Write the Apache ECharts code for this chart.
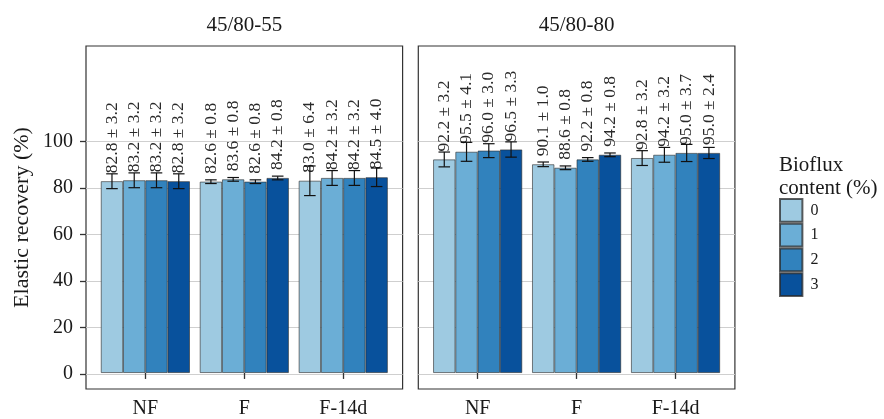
<!DOCTYPE html>
<html>
<head>
<meta charset="utf-8">
<script src="https://cdn.jsdelivr.net/npm/echarts@6/dist/echarts.min.js"></script>
<style>html,body{margin:0;padding:0;background:#fff}#c{width:884px;height:419px}</style>
</head>
<body>
<div id="c"></div>
<script>
// ---- data ----
const categories = ['NF', 'F', 'F-14d'];
const levels = ['0', '1', '2', '3'];
const panelTitles = ['45/80-55', '45/80-80'];
const yTicks = [0, 20, 40, 60, 80, 100];
// rows = bioflux level, columns = categories
const mean55 = [[82.8, 82.6, 83.0], [83.2, 83.6, 84.2], [83.2, 82.6, 84.2], [82.8, 84.2, 84.5]];
const sd55   = [[3.2, 0.8, 6.4], [3.2, 0.8, 3.2], [3.2, 0.8, 3.2], [3.2, 0.8, 4.0]];
const mean80 = [[92.2, 90.1, 92.8], [95.5, 88.6, 94.2], [96.0, 92.2, 95.0], [96.5, 94.2, 95.0]];
const sd80   = [[3.2, 1.0, 3.2], [4.1, 0.8, 3.2], [3.0, 0.8, 3.7], [3.3, 0.8, 2.4]];
const colors = ['#9ecae1', '#6baed6', '#3182bd', '#08519c'];

// ---- layout ----
const FONT = "'Liberation Serif', 'Times New Roman', serif";
const TXT = '#1a1a1a';
const YMIN = -6.5, YMAX = 141.2;
const PANEL_TOP = 46, PANEL_H = 343, PANEL_W = 316.6;
const panelLeft = [86, 418.3];
const inset = PANEL_W * 0.1 / 3.2;
const means = [mean55, mean80];
const sds = [sd55, sd80];

const grid = [], xAxis = [], yAxis = [], series = [];
for (let p = 0; p < 2; p++) {
  grid.push({left: panelLeft[p], top: PANEL_TOP, width: PANEL_W, height: PANEL_H,
    show: true, borderColor: '#333', borderWidth: 1.2, backgroundColor: 'transparent'});
  grid.push({left: panelLeft[p] + inset, top: PANEL_TOP, width: PANEL_W - 2 * inset, height: PANEL_H});
  xAxis.push({gridIndex: 2 * p, type: 'value', min: 0, max: 1, show: false});
  xAxis.push({gridIndex: 2 * p + 1, type: 'category', data: categories, position: 'bottom',
    axisLine: {show: false},
    axisTick: {show: true, alignWithLabel: true, length: 6, lineStyle: {color: '#333', width: 1.3}},
    axisLabel: {fontSize: 20, fontFamily: FONT, color: TXT, margin: 11},
    splitLine: {show: false}});
  yAxis.push({gridIndex: 2 * p, type: 'value', min: YMIN, max: YMAX,
    axisLine: {show: false},
    axisTick: {show: p === 0, customValues: yTicks, length: 6, lineStyle: {color: '#333', width: 1.3}},
    axisLabel: {show: p === 0, customValues: yTicks, fontSize: 20, fontFamily: FONT, color: TXT, margin: 13},
    splitLine: {show: true, lineStyle: {color: '#cfcfcf', width: 1}}});
  yAxis.push({gridIndex: 2 * p + 1, type: 'value', min: YMIN, max: YMAX, show: false});

  for (let j = 0; j < levels.length; j++) {
    const m = means[p][j], s = sds[p][j];
    series.push({
      name: levels[j], type: 'bar', xAxisIndex: 2 * p + 1, yAxisIndex: 2 * p + 1,
      data: m, barGap: '0%', barCategoryGap: '10%',
      itemStyle: {color: colors[j], borderColor: 'rgba(40,40,40,0.75)', borderWidth: 0.8},
      label: {show: true, position: 'top', rotate: 90, align: 'left', verticalAlign: 'middle',
        distance: 8, fontSize: 17.5, fontFamily: FONT, color: '#2a2a2a',
        formatter: (d) => m[d.dataIndex].toFixed(1) + ' \u00b1 ' + s[d.dataIndex].toFixed(1)},
      emphasis: {disabled: true}, animation: false
    });
    series.push({
      type: 'custom', xAxisIndex: 2 * p + 1, yAxisIndex: 2 * p + 1, z: 10,
      encode: {x: 0, y: 1},
      data: m.map((v, i) => [i, v, s[i]]),
      renderItem: (params, api) => {
        const i = api.value(0), v = api.value(1), e = api.value(2);
        const band = api.size([1, 0])[0];
        const bw = band * 0.9 / 4;
        const cx = api.coord([i, v])[0] + (j - 1.5) * bw;
        const yt = api.coord([i, v + e])[1], yb = api.coord([i, v - e])[1];
        const hw = bw * 0.26;
        const st = {stroke: '#111', lineWidth: 1.2};
        return {type: 'group', children: [
          {type: 'line', shape: {x1: cx, y1: yt, x2: cx, y2: yb}, style: st},
          {type: 'line', shape: {x1: cx - hw, y1: yt, x2: cx + hw, y2: yt}, style: st},
          {type: 'line', shape: {x1: cx - hw, y1: yb, x2: cx + hw, y2: yb}, style: st}
        ]};
      },
      animation: false, silent: true
    });
  }
}

const graphic = [
  {type: 'text', x: 22, y: PANEL_TOP + PANEL_H / 2, rotation: Math.PI / 2,
    style: {text: 'Elastic recovery (%)', fontSize: 22, fontFamily: FONT, fill: TXT, align: 'center', verticalAlign: 'middle'}},
  {type: 'text', x: 779, y: 154,
    style: {text: 'Bioflux\ncontent (%)', fontSize: 21, lineHeight: 23, fontFamily: FONT, fill: TXT, align: 'left', verticalAlign: 'top'}}
];
for (let p = 0; p < 2; p++) {
  graphic.push({type: 'text', x: panelLeft[p] + PANEL_W / 2, y: 25,
    style: {text: panelTitles[p], fontSize: 21, fontFamily: FONT, fill: TXT, align: 'center', verticalAlign: 'middle'}});
}

const chart = echarts.init(document.getElementById('c'), null, {renderer: 'canvas'});
chart.setOption({
  animation: false,
  backgroundColor: '#fff',
  grid, xAxis, yAxis, series, graphic,
  legend: {data: levels, orient: 'vertical', left: 779, top: 198, itemWidth: 22.4, itemHeight: 22.75,
    itemGap: 0, icon: 'rect', selectedMode: false, padding: 0,
    textStyle: {fontSize: 16, fontFamily: FONT, color: TXT, padding: [0, 0, 0, 3]}}
});
</script>
</body>
</html>
